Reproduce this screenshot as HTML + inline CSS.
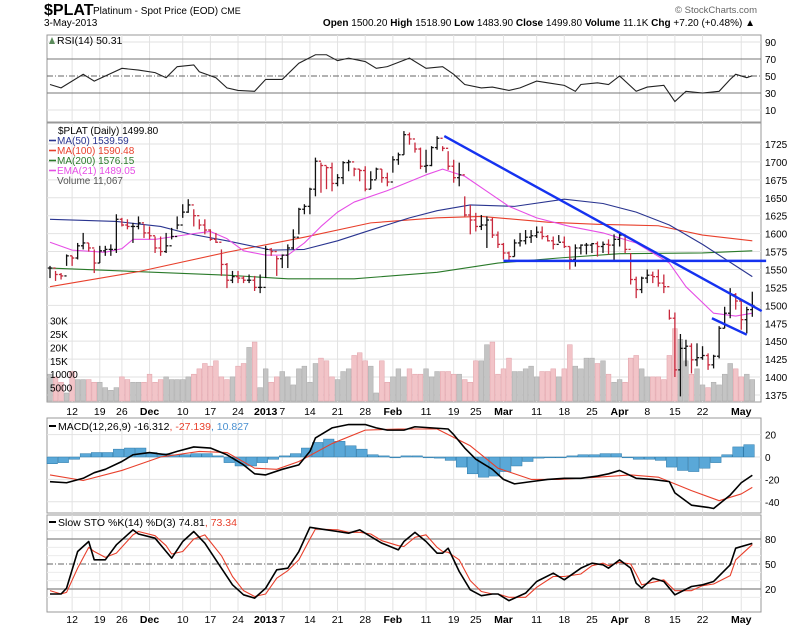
<!DOCTYPE html>
<html><head><meta charset="utf-8">
<style>
html,body{margin:0;padding:0;background:#fff;}
svg{display:block;font-family:"Liberation Sans",Arial,sans-serif;}
</style></head>
<body>
<svg id="chart" width="800" height="628" viewBox="0 0 800 628" xmlns="http://www.w3.org/2000/svg">
  <g>
    <text x="44" y="15" font-size="16" font-weight="bold">$PLAT</text>
    <text x="93" y="14" font-size="10">Platinum  - Spot Price (EOD) <tspan font-size="9">CME</tspan></text>
    <text x="44" y="26" font-size="10">3-May-2013</text>
    <text x="757" y="13" font-size="9.5" fill="#666" text-anchor="end">© StockCharts.com</text>
    <text x="755" y="26" font-size="10" text-anchor="end"><tspan font-weight="bold">Open</tspan> 1500.20 <tspan font-weight="bold">High</tspan> 1518.90 <tspan font-weight="bold">Low</tspan> 1483.90 <tspan font-weight="bold">Close</tspan> 1499.80 <tspan font-weight="bold">Volume</tspan> 11.1K <tspan font-weight="bold">Chg</tspan> +7.20 (+0.48%) ▲</text>
  </g>
  <g id="grid"></g>
  <g id="marks"></g>
  <g id="labels"></g>
</svg>
<script>
// ---- data ----
const tickIdx = [4,9,13,18,24,29,34,39,42,47,52,57,62,68,73,77,82,88,93,98,103,108,113,118,125];
const tickLabels = ["12","19","26","Dec","10","17","24","2013","7","14","21","28","Feb","11","19","25","Mar","11","18","25","Apr","8","15","22","May"];
const tickBold = ["Dec","2013","Feb","Mar","Apr","May"];
const highs = [1555,1548,1545,1571,1569,1587,1601,1587,1578,1583,1583,1585,1627,1622,1620,1615,1624,1613,1610,1596,1596,1601,1608,1624,1641,1648,1634,1620,1620,1606,1601,1578,1559,1548,1548,1541,1543,1541,1543,1583,1580,1569,1571,1585,1606,1636,1641,1664,1706,1699,1694,1699,1683,1701,1703,1692,1690,1694,1687,1692,1690,1685,1708,1713,1743,1741,1727,1720,1717,1722,1736,1722,1715,1703,1699,1652,1640,1629,1626,1624,1622,1603,1587,1575,1592,1601,1605,1605,1610,1610,1598,1596,1598,1596,1582,1585,1585,1587,1587,1589,1589,1592,1599,1603,1599,1573,1540,1540,1550,1547,1550,1543,1494,1490,1460,1452,1447,1447,1443,1433,1431,1471,1498,1524,1517,1508,1498,1519];
const lows = [1538,1534,1536,1555,1555,1564,1578,1575,1545,1559,1569,1569,1573,1610,1606,1587,1606,1594,1592,1573,1569,1573,1592,1606,1622,1629,1610,1606,1599,1590,1587,1541,1524,1531,1531,1531,1531,1520,1517,1538,1569,1541,1552,1552,1578,1599,1627,1627,1652,1657,1662,1659,1666,1669,1687,1680,1673,1659,1662,1676,1671,1666,1685,1696,1710,1724,1713,1690,1685,1694,1717,1715,1689,1671,1666,1624,1599,1603,1605,1580,1594,1580,1564,1561,1568,1582,1585,1587,1594,1592,1589,1578,1589,1580,1550,1554,1571,1571,1573,1568,1573,1571,1561,1582,1573,1529,1510,1517,1531,1531,1526,1517,1480,1400,1373,1415,1405,1415,1424,1410,1412,1426,1468,1482,1494,1466,1461,1484];
const closes = [1552,1543,1541,1569,1566,1583,1587,1580,1559,1576,1578,1578,1620,1612,1610,1610,1615,1601,1597,1580,1575,1583,1596,1612,1630,1640,1625,1612,1605,1592,1588,1557,1535,1540,1538,1535,1535,1525,1525,1578,1575,1565,1570,1580,1595,1634,1638,1662,1701,1695,1692,1670,1678,1699,1700,1690,1688,1662,1675,1690,1678,1672,1703,1710,1738,1732,1718,1694,1695,1720,1733,1719,1694,1678,1682,1626,1619,1610,1612,1619,1598,1585,1573,1568,1587,1590,1595,1597,1602,1596,1590,1585,1588,1582,1564,1580,1584,1584,1586,1582,1585,1584,1592,1598,1578,1536,1522,1538,1542,1540,1531,1526,1482,1410,1440,1443,1424,1427,1430,1417,1429,1468,1489,1515,1506,1480,1494,1499.8];
const volumesK = [10,9,7,3,11,8,8,8,7,7,5,4,5,9,8,7,7,7,10,7,8,9,8,8,8,9,10,12,14,13,15,9,8,9,13,14,20,22,5,12,7,9,11,9,6,12,13,7,14,16,15,9,8,11,12,17,18,15,13,3,15,7,9,12,9,12,10,10,12,9,11,11,11,10,10,8,7,15,15,21,22,10,12,16,11,11,12,13,9,11,11,12,9,12,21,13,12,16,16,14,15,10,7,8,7,16,17,12,9,9,9,8,17,27,23,15,10,12,6,5,7,6,10,14,12,9,10,8];
const ma50Idx = [0,12,20,25,32,40,46,52,58,65,70,76,84,93,100,106,112,118,124,127];
const ma50Val = [1620,1617,1610,1600,1590,1577,1578,1590,1605,1622,1632,1640,1638,1648,1642,1630,1612,1585,1555,1540];
const ma100Idx = [0,16,32,46,58,70,78,90,99,110,118,127];
const ma100Val = [1526,1547,1574,1595,1615,1622,1624,1616,1613,1611,1598,1590];
const ma200Idx = [0,32,43,55,70,81,92,103,118,127];
const ma200Val = [1552,1542,1537,1537,1546,1559,1566,1572,1573,1576];
const emaIdx = [0,4,10,13,15,19,26,29,32,35,39,43,46,49,52,55,61,68,71,75,79,83,88,94,100,106,112,115,120,124,127];
const emaVal = [1588,1577,1574,1579,1592,1592,1600,1603,1593,1576,1570,1570,1587,1610,1630,1644,1660,1682,1690,1680,1659,1638,1622,1610,1601,1587,1559,1526,1489,1485,1489];
const trendStartIdx = [71.3,82,119.7];
const trendStartVal = [1736,1562,1482];
const trendEndIdx = [128.7,129.5,126];
const trendEndVal = [1492,1562,1459];
const rsiIdx = [0,2,6,8,10,13,16,19,21,23,26,27,30,32,34,37,39,42,45,48,50,52,54,57,59,61,65,68,71,73,75,78,80,83,85,88,90,93,95,96,99,101,103,106,108,111,113,115,118,121,123,124,126,127];
const rsiVal = [40,36,52,44,50,59,57,54,48,61,63,55,48,36,33,32,46,46,65,75,75,68,71,67,59,61,71,59,61,52,40,36,37,33,36,44,42,39,32,40,42,40,50,32,37,39,20,32,30,32,46,52,48,50.31];
const rsiTicks = [90,70,50,30,10];
const macdIdx = [0,3,6,8,10,13,15,18,21,23,26,29,32,35,37,39,42,45,47,48,51,54,57,59,61,64,66,69,72,73,75,77,80,82,84,87,90,93,96,99,101,103,106,109,112,113,116,119,120,123,125,127];
const macdVal = [-22,-23,-19,-14,-11,-4,2,4,2,5,9,8,2,-7,-15,-16,-11,-7,5,17,26,29,29,26,24,24,27,26,25,20,8,-2,-11,-20,-24,-22,-20,-19,-19,-17,-15,-12,-19,-20,-22,-32,-43,-45,-46,-34,-23,-16.3];
const signalIdx = [0,6,13,20,27,32,37,41,45,51,57,63,70,76,81,87,92,99,105,110,116,121,125,127];
const signalVal = [-16,-21,-12,0,5,4,-10,-11,-4,12,24,25,25,10,-10,-20,-20,-18,-16,-18,-30,-39,-33,-27.1];
const histVal = [-6,-5,-2,3,4,4,7,8,8,4,3,2,2,3,3,1,-5,-8,-8,-5,-2,1,3,8,13,16,14,10,7,2,1,0,1,1,0,-1,-3,-9,-15,-18,-17,-13,-8,-4,-1,0,0,1,2,2,3,3,0,-2,-2,-3,-9,-12,-13,-10,-5,2,9,11];
const macdTicks = [20,0,-20,-40];
const stoIdx = [0,2,3,5,7,8,10,12,15,16,19,21,22,24,26,28,31,33,35,37,39,41,43,45,47,48,52,54,56,58,60,63,64,66,68,70,71,72,74,76,78,80,81,83,86,88,91,93,96,98,100,101,103,105,106,107,109,111,113,116,118,120,123,124,127];
const stoK = [14,14,21,65,77,55,55,73,91,86,81,65,57,77,89,75,45,25,13,9,21,43,45,65,94,93,89,87,91,83,75,67,77,88,77,63,63,69,41,19,12,14,14,6,15,29,39,31,45,51,49,45,55,45,27,21,33,29,13,23,25,29,49,69,74.8];
const stoD = [18,14,16,45,70,65,58,63,85,89,84,72,62,65,80,85,60,35,18,11,14,33,42,55,80,92,91,88,88,86,78,72,71,82,85,70,65,64,55,30,17,14,14,10,10,22,35,35,38,48,51,48,52,50,38,25,28,31,18,18,24,26,36,55,73.3];
const stoTicks = [80,50,20];
const priceTicks = [1375,1400,1425,1450,1475,1500,1525,1550,1575,1600,1625,1650,1675,1700,1725];
const volTickVals = [30000,25000,20000,15000,10000,5000];
const volTickLabels = ["30K","25K","20K","15K","10000","5000"];

// ---- layout ----
const L = 47, R = 761;
const X0 = 50, DX = 5.53;
const xs = i => X0 + i * DX;
const yPrice = p => 144 + (1725 - p) * 0.717;
const yVol = v => 401 - v * 2.68;
const yRsi = v => 42 + (90 - v) * 0.85;
const yMacd = v => 457 - v * 1.12;
const ySto = v => 564 - (v - 50) * 0.833;
const panels = [
  {name:'rsi-panel', top:35, bot:122},
  {name:'price-panel', top:123, bot:402},
  {name:'macd-panel', top:418, bot:513},
  {name:'sto-panel', top:515, bot:612}
];
const NS = 'http://www.w3.org/2000/svg';
const gGrid = document.getElementById('grid');
const gMarks = document.getElementById('marks');
const gLab = document.getElementById('labels');
function mk(tag, attrs, parent){
  const e = document.createElementNS(NS, tag);
  for (const k in attrs) e.setAttribute(k, attrs[k]);
  parent.appendChild(e);
  return e;
}
function txt(s, x, y, size, parent, anchor, fill, weight){
  const t = mk('text', {x:x, y:y, 'font-size':size, 'text-anchor':anchor||'start', fill:fill||'#000'}, parent);
  if (weight) t.setAttribute('font-weight', weight);
  t.textContent = s;
  return t;
}

panels.forEach(p => {
  const r = mk('rect', {x:L, y:p.top, width:R-L, height:p.bot-p.top, fill:'#fff', stroke:'#999', 'stroke-width':1}, gGrid);
  
  
  tickIdx.forEach(i => {
    const gl = mk('line', {x1:xs(i), x2:xs(i), y1:p.top, y2:p.bot, stroke:'#e2e2e2', 'stroke-width':1}, gGrid);
    
    
  });
});

[411, 619].forEach((yy, row) => {
  tickIdx.forEach((i, k) => {
    const lab = tickLabels[k];
    const t = txt(lab, xs(i), yy + 4, 10.5, gLab, 'middle', '#000', tickBold.includes(lab) ? 'bold' : null);
    
    
  });
});

// ---- RSI panel ----
[90,10].forEach(v => {
  const gl = mk('line', {x1:L, x2:R, y1:yRsi(v), y2:yRsi(v), stroke:'#e2e2e2'}, gGrid);
  
  
});
[70,30].forEach(v => {
  const gl = mk('line', {x1:L, x2:R, y1:yRsi(v), y2:yRsi(v), stroke:'#777'}, gGrid);
  
  
});
{
  const gl = mk('line', {x1:L, x2:R, y1:yRsi(50), y2:yRsi(50), stroke:'#666', 'stroke-dasharray':'6,2,1,2'}, gGrid);
  
  
}
rsiTicks.forEach(v => {
  const t = txt(String(v), 765, yRsi(v) + 4, 10, gLab);
  
  
});
{
  const pts = rsiIdx.map((i,k) => xs(i) + ',' + yRsi(rsiVal[k])).join(' ');
  const pl = mk('polyline', {points:pts, fill:'none', stroke:'#222', 'stroke-width':1.1}, gMarks);
  
  
  const t = txt('RSI(14) 50.31', 57, 44, 10.5, gLab);
  
  
  const ic = mk('path', {d:'M49 44 L52 37 L55 44 Z', fill:'#5a8a5a'}, gLab);
  
  
}

// ---- price panel ----
priceTicks.forEach(p => {
  const gl = mk('line', {x1:L, x2:R, y1:yPrice(p), y2:yPrice(p), stroke:'#e2e2e2'}, gGrid);
  
  
  const t = txt(String(p), 765, yPrice(p) + 4, 10, gLab);
  
  
});
volTickVals.forEach((v,k) => {
  const t = txt(volTickLabels[k], 50, yVol(v/1000) + 4, 10, gLab);
  
  
});
volumesK.forEach((v,i) => {
  const down = i > 0 && closes[i] < closes[i-1];
  const r = mk('rect', {x:xs(i)-2.4, y:yVol(v), width:4.8, height:401-yVol(v), fill: down ? '#f2c4c8' : '#c4c4c4', stroke: down ? '#e0a0a8' : '#aaa', 'stroke-width':0.5}, gMarks);
  
  
});
function line(idx, vals, yf, color, name, w){
  const pts = idx.map((i,k) => xs(i) + ',' + yf(vals[k])).join(' ');
  const pl = mk('polyline', {points:pts, fill:'none', stroke:color, 'stroke-width':w||1.1, 'stroke-linejoin':'round'}, gMarks);
  
  
}
line(ma200Idx, ma200Val, yPrice, '#2a7a2a', 'ma200-line');
line(ma100Idx, ma100Val, yPrice, '#e8402c', 'ma100-line');
line(ma50Idx, ma50Val, yPrice, '#2a3590', 'ma50-line');
line(emaIdx, emaVal, yPrice, '#e64ee6', 'ema21-line');
closes.forEach((c,i) => {
  const down = i > 0 && c < closes[i-1];
  const col = down ? '#c8283c' : '#111';
  const x = xs(i);
  const o = i > 0 ? closes[i-1] : c;
  const g = mk('g', {stroke:col, 'stroke-width':1.3}, gMarks);
  
  
  mk('line', {x1:x, x2:x, y1:yPrice(highs[i]), y2:yPrice(lows[i])}, g);
  mk('line', {x1:x-2.2, x2:x, y1:yPrice(o), y2:yPrice(o)}, g);
  mk('line', {x1:x, x2:x+2.2, y1:yPrice(c), y2:yPrice(c)}, g);
});
trendStartIdx.forEach((s,k) => {
  const tl = mk('line', {x1:xs(s), y1:yPrice(trendStartVal[k]), x2:xs(trendEndIdx[k]), y2:yPrice(trendEndVal[k]), stroke:'#1532f0', 'stroke-width':2.4}, gMarks);
  
  
});
{
  const items = [
    ['$PLAT (Daily) 1499.80', '#000', null],
    ['MA(50) 1539.59', '#2a3590', '#2a3590'],
    ['MA(100) 1590.48', '#e8402c', '#e8402c'],
    ['MA(200) 1576.15', '#2a7a2a', '#2a7a2a'],
    ['EMA(21) 1489.05', '#e64ee6', '#e64ee6'],
    ['Volume 11,067', '#555', null]
  ];
  const names = ['price-legend','ma50-legend','ma100-legend','ma200-legend','ema21-legend','volume-legend'];
  items.forEach((it,k) => {
    const y = 134 + k * 10;
    if (it[2]) {
      const sw = mk('line', {x1:49, x2:56, y1:y-3.5, y2:y-3.5, stroke:it[2], 'stroke-width':1.6}, gLab);
      
      
    }
    const t = txt(it[0], k === 0 ? 58 : 57, y, 10, gLab, 'start', it[1]);
    
    
  });
}

// ---- MACD panel ----
macdTicks.forEach(v => {
  const gl = mk('line', {x1:L, x2:R, y1:yMacd(v), y2:yMacd(v), stroke:'#e2e2e2'}, gGrid);
  
  
  const t = txt(String(v), 765, yMacd(v) + 4, 10, gLab);
  
  
});
histVal.forEach((v,k) => {
  const i = k * 2;
  const y0 = yMacd(0), y1 = yMacd(v);
  const r = mk('rect', {x:xs(i)-3, y:Math.min(y0,y1), width:10.5, height:Math.max(0.8, Math.abs(y1-y0)), fill:'#5aa8d8', stroke:'#2a78a8', 'stroke-width':0.5}, gMarks);
  
  
});
line(signalIdx, signalVal, yMacd, '#e8402c', 'macd-signal-line', 1.1);
line(macdIdx, macdVal, yMacd, '#000', 'macd-line', 1.6);
{
  const sw = mk('line', {x1:49, x2:56, y1:426, y2:426, stroke:'#000', 'stroke-width':2}, gLab);
  
  
  const t = mk('text', {x:58, y:430, 'font-size':10.5}, gLab);
  
  
  t.innerHTML = 'MACD(12,26,9) -16.312<tspan fill="#e8402c">, -27.139</tspan><tspan fill="#4a90d0">, 10.827</tspan>';
}

// ---- Slow STO panel ----
[90,70,60,40,30,10].forEach(v => {
  const gl = mk('line', {x1:L, x2:R, y1:ySto(v), y2:ySto(v), stroke:'#ececec'}, gGrid);
  
  
});
stoTicks.forEach(v => {
  const gl = mk('line', {x1:L, x2:R, y1:ySto(v), y2:ySto(v), stroke: v === 50 ? '#666' : '#888', 'stroke-dasharray': v === 50 ? '6,2,1,2' : 'none', 'stroke-width': v === 50 ? 1 : 1.3}, gGrid);
  
  
  const t = txt(String(v), 765, ySto(v) + 4, 10, gLab);
  
  
});
line(stoIdx, stoD, ySto, '#e8402c', 'sto-d-line', 1.1);
line(stoIdx, stoK, ySto, '#000', 'sto-k-line', 1.6);
{
  const sw = mk('line', {x1:49, x2:56, y1:522, y2:522, stroke:'#000', 'stroke-width':2}, gLab);
  
  
  const t = mk('text', {x:58, y:526, 'font-size':10.5}, gLab);
  
  
  t.innerHTML = 'Slow STO %K(14) %D(3) 74.81<tspan fill="#e8402c">, 73.34</tspan>';
}
</script>
</body></html>
